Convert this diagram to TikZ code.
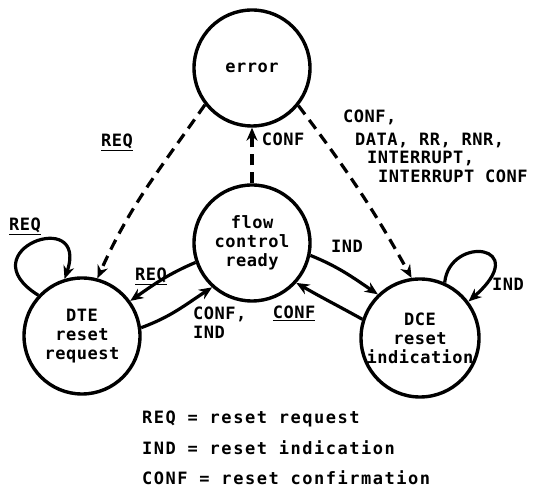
\documentclass[tikz,border=0pt]{standalone}
\usepackage{fontspec}
\setmonofont{DejaVu Sans Mono}[LetterSpace=3]
\usetikzlibrary{arrows.meta}
\begin{document}
\begin{tikzpicture}[x=1bp,y=1bp,
  every node/.style={font=\ttfamily\bfseries\fontsize{17bp}{19bp}\selectfont},
  state/.style={draw, circle, line width=3.4bp, minimum size=116bp, inner sep=0pt, align=center},
  link/.style={line width=3.2bp, -{Stealth[length=13bp,width=11bp]}},
  dashlink/.style={link, dash pattern=on 11bp off 7bp},
  lbl/.style={inner sep=0pt},
  keytext/.style={lbl, anchor=base west, font=\ttfamily\bfseries\fontsize{17bp}{19bp}\selectfont\addfontfeatures{LetterSpace=9}},
]
\useasboundingbox (0,0) rectangle (534,489);

% states
\node[state] (err)  at (252,421) {error};
\node[state] (flow) at (252,246) {flow\\control\\ready};
\node[state] (dte)  at (82,153)  {DTE\\reset\\request};
\node[state] (dce)  at (420,151) {DCE\\reset\\indication};

% transitions into the error state
\draw[dashlink] (flow.north) -- (err.south);
\draw[dashlink] (err.218) to[out=235,in=66] (dte.75);
\draw[dashlink] (err.321) to[out=307,in=119] (dce.98);

% reset exchanges
\draw[link] (flow.199) to[out=203,in=35] (dte.36);
\draw[link] (dte.8) to[out=20,in=213] (flow.228);
\draw[link] (flow.348) to[out=338,in=146] (dce.134);
\draw[link] (dce.162) to[out=151,in=330] (flow.318);

% self loops
\draw[link] (dte.137) .. controls +(-72,45) and +(25,73) .. (dte.107);
\draw[link] (dce.66) .. controls +(5,48) and +(65,57) .. (dce.37);

% transition labels
\node[lbl] (lreqtop) at (117,347) {\underline{REQ}};
\node[lbl] (lconfup) at (283,350) {CONF};
\node[lbl, align=left, anchor=north west, font=\ttfamily\bfseries\fontsize{17bp}{18.5bp}\selectfont] (lconfmany) at (343,379)
  {CONF,\\[4bp]\hspace*{12bp}DATA, RR, RNR,\\\hspace*{24bp}INTERRUPT,\\\hspace*{35bp}INTERRUPT CONF};
\node[lbl] (lreqloop) at (25,263) {\underline{REQ}};
\node[lbl] (lreqmid) at (151,213) {\underline{REQ}};
\node[lbl, align=left, anchor=north west] (lconfind) at (193,182) {CONF,\\IND};
\node[lbl] (lindtop) at (347,243) {IND};
\node[lbl] (lconfmid) at (294,176) {\underline{CONF}};
\node[lbl] (lindloop) at (508,205) {IND};

% key
\node[keytext] (key1) at (142,65) {REQ = reset request};
\node[keytext] (key2) at (142,34) {IND = reset indication};
\node[keytext] (key3) at (142,4) {CONF = reset confirmation};
\end{tikzpicture}
\end{document}
